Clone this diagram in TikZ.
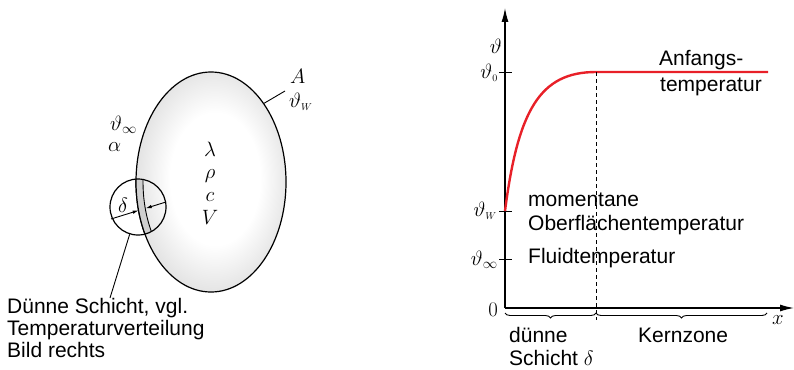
\documentclass[tikz,border=0pt]{standalone}
\usepackage[no-math]{fontspec}
\setmainfont{Liberation Sans}
\usetikzlibrary{arrows.meta,decorations.pathreplacing,shapes.geometric}
\definecolor{curvered}{RGB}{232,32,40}
\pgfdeclareradialshading{bodyshade}{\pgfpoint{2bp}{1bp}}{color(0bp)=(white); color(15bp)=(white); color(25bp)=(black!10); color(50bp)=(black!10)}
\begin{document}
\begin{tikzpicture}[x=1pt,y=-1pt,
  txt/.style={font=\fontsize{21}{24}\selectfont, inner sep=0pt},
  mth/.style={font=\fontsize{20}{22}\selectfont, inner sep=0pt},
  ax/.style={line width=1.2pt, -{Latex[length=14pt,width=7pt]}},
  tickline/.style={line width=1pt},
  outline/.style={line width=1.2pt},
  thin line/.style={line width=0.9pt}]
\useasboundingbox (0,0) rectangle (794,369);

% ---------- left: body ----------
\node[ellipse, minimum width=150pt, minimum height=220pt, inner sep=0pt, draw, outline,
      shading=bodyshade] (body) at (211,182) {};

\begin{scope}
  \clip (138,207) circle [radius=28pt];
  \fill[black!19, even odd rule] (211,182) ellipse [x radius=75pt, y radius=110pt]
        (211,182) ellipse [x radius=68pt, y radius=103pt];
  \draw[thin line] (211,182) ellipse [x radius=68pt, y radius=103pt];
  \draw[outline] (211,182) ellipse [x radius=75pt, y radius=110pt];
\end{scope}
\node[circle, draw, outline, minimum size=56pt, inner sep=0pt] (zoom) at (138,207) {};

% delta dimension
\coordinate (dL) at (111,219);
\coordinate (dR) at (166,202);
\coordinate (sa) at (138.7,210.4);
\coordinate (sb) at (145.7,208.3);
\draw[thin line, -{Latex[length=6pt,width=3.5pt]}] (dL) -- (sa);
\draw[thin line, -{Latex[length=6pt,width=3.5pt]}] (dR) -- (sb);
\node[mth, anchor=base] (delta) at (123,212) {$\delta$};

% leader to note
\coordinate (lead) at (110,298);
\draw[thin line] (zoom.-107) -- (lead);
\node[txt, anchor=base west] (note1) at (7,313) {Dünne Schicht, vgl.};
\node[txt, anchor=base west] (note2) at (7,335) {Temperaturverteilung};
\node[txt, anchor=base west] (note3) at (7,357) {Bild rechts};

% A leader
\coordinate (Aend) at (285,91);
\draw[thin line] (body.56.6) -- (Aend);
\node[mth, anchor=base west] (A) at (290,83) {$A$};
\node[mth, anchor=base west] (thW) at (289,107) {$\vartheta_{\scriptscriptstyle W}$};

\node[mth, anchor=base west] (thinf) at (110,130) {$\vartheta_\infty$};
\node[mth, anchor=base west] (alpha) at (108,151) {$\alpha$};

\node[mth, anchor=base] (lam) at (210,156) {$\lambda$};
\node[mth, anchor=base] (rho) at (210,178) {$\rho$};
\node[mth, anchor=base] (cc) at (210,201) {$c$};
\node[mth, anchor=base] (VV) at (210,224) {$V$};

% ---------- right: plot ----------
\coordinate (O) at (505,308);
\coordinate (ytop) at (505,8);
\coordinate (xend) at (794,308);
\draw[ax] (O) -- (ytop);
\draw[ax] (O) -- (xend);

\draw[tickline] (499,72) -- (512,72);
\draw[tickline] (499,211) -- (512,211);
\draw[tickline] (499,259) -- (512,259);

\coordinate (c0) at (505,211);
\coordinate (c1) at (596,72);
\coordinate (c2) at (768,72);
\draw[curvered, line width=2.4pt] (c0) .. controls (518,110) and (540,72) .. (c1) -- (c2);

\coordinate (dashbot) at (596,320);
\draw[dashed, line width=0.8pt, dash pattern=on 4pt off 3pt] (c1) -- (dashbot);

\coordinate (b0) at (505,313);
\coordinate (b1) at (596,313);
\coordinate (b2) at (767,313);
\draw[thin line, decorate, decoration={brace, amplitude=5pt, mirror}] (b0) -- (b1);
\draw[thin line, decorate, decoration={brace, amplitude=5pt, mirror}] (b1) -- (b2);

\node[mth, anchor=base east] (thy) at (502,53) {$\vartheta$};
\node[mth, anchor=east] (th0) at (498,73) {$\vartheta_{\scriptscriptstyle 0}$};
\node[mth, anchor=east] (thWr) at (497,211) {$\vartheta_{\scriptscriptstyle W}$};
\node[mth, anchor=east] (thinfr) at (498,260) {$\vartheta_\infty$};
\node[mth, anchor=east] (zero) at (498,310) {$0$};
\node[mth, anchor=base] (xlab) at (778,324) {$x$};

\node[txt, anchor=base west] (anf1) at (659,66) {Anfangs-};
\node[txt, anchor=base west] (anf2) at (660,91) {temperatur};
\node[txt, anchor=base west] (mom1) at (528,206) {momentane};
\node[txt, anchor=base west] (mom2) at (528,230) {Oberflächentemperatur};
\node[txt, anchor=base west] (fluid) at (528,263) {Fluidtemperatur};
\node[txt, anchor=base west] (duenne) at (509,342) {dünne};
\node[txt, anchor=base west] (schicht) at (509,365) {Schicht $\delta$};
\node[txt, anchor=base west] (kern) at (638,342) {Kernzone};
\end{tikzpicture}
\end{document}
